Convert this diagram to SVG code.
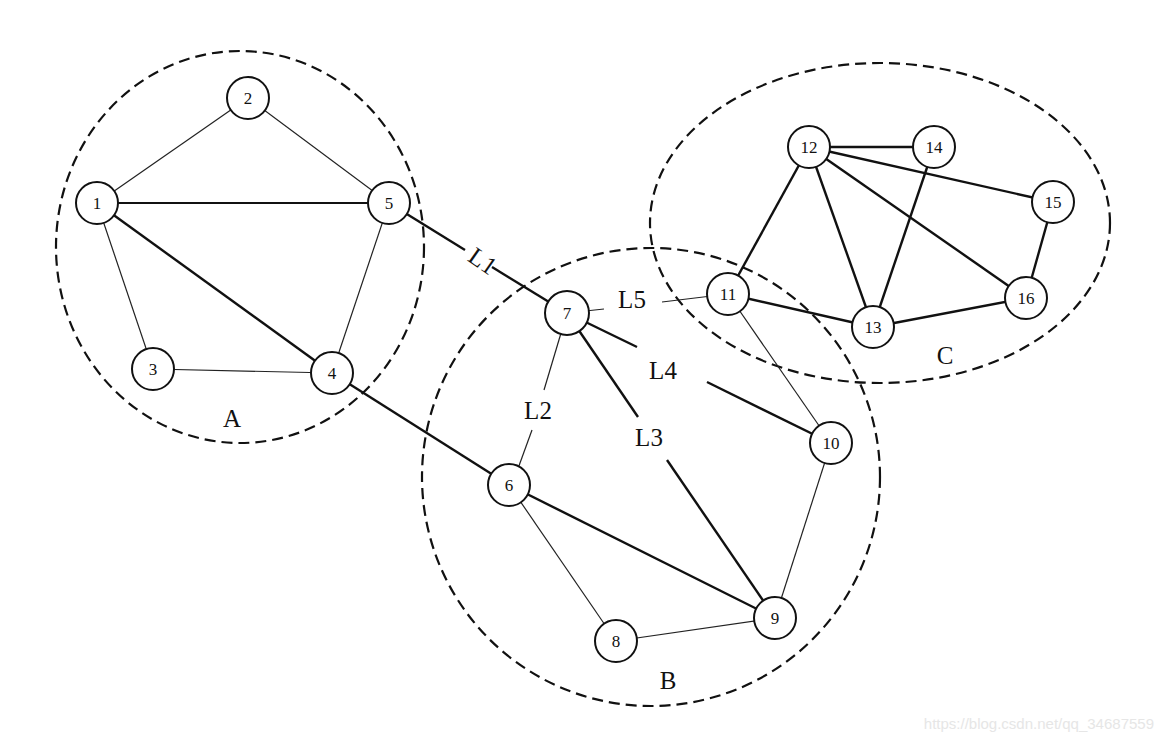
<svg xmlns="http://www.w3.org/2000/svg" width="1163" height="744" viewBox="0 0 1163 744">
<style>
.grp{fill:none;stroke:#111;stroke-width:2.2;stroke-dasharray:11,6}
.n circle{fill:#fff;stroke:#111;stroke-width:2}
.n text{font-family:"Liberation Serif",serif;font-size:17px;fill:#111;text-anchor:middle}
.thin{stroke:#222;stroke-width:1.2;fill:none}
.mid{stroke:#111;stroke-width:1.8;fill:none}
.thick{stroke:#111;stroke-width:2.4;fill:none}
.lbl{font-family:"Liberation Serif",serif;font-size:25px;fill:#111;text-anchor:middle}
</style>
<rect width="1163" height="744" fill="#fff"/>
<g id="groups">
<ellipse class="grp" cx="240" cy="247" rx="184" ry="196"/>
<circle class="grp" cx="651" cy="477" r="229"/>
<ellipse class="grp" cx="880" cy="223" rx="230" ry="160"/>
</g>
<g id="connectors">
<line class="thin" x1="97" y1="203" x2="248" y2="98"/>
<line class="thin" x1="248" y1="98" x2="389" y2="203"/>
<line class="mid" x1="97" y1="203" x2="389" y2="203"/>
<line class="thin" x1="97" y1="203" x2="153" y2="369"/>
<line class="thick" x1="97" y1="203" x2="332" y2="373"/>
<line class="thin" x1="153" y1="369" x2="332" y2="373"/>
<line class="thin" x1="389" y1="203" x2="332" y2="373"/>
<line class="thick" x1="332" y1="373" x2="509" y2="485"/>
<line class="thick" x1="389" y1="203" x2="465" y2="250"/>
<line class="thick" x1="492" y1="267" x2="567" y2="313"/>
<line class="thin" x1="567" y1="313" x2="604" y2="309"/>
<line class="thin" x1="662" y1="302" x2="728" y2="294"/>
<line class="thick" x1="567" y1="313" x2="637" y2="347"/>
<line class="thick" x1="707" y1="382" x2="831" y2="443"/>
<line class="thin" x1="567" y1="313" x2="544" y2="390"/>
<line class="thin" x1="532" y1="430" x2="512" y2="485"/>
<line class="thick" x1="567" y1="313" x2="638" y2="417"/>
<line class="thick" x1="667" y1="460" x2="775" y2="618"/>
<line class="thick" x1="509" y1="485" x2="775" y2="618"/>
<line class="thin" x1="509" y1="485" x2="616" y2="641"/>
<line class="thin" x1="616" y1="641" x2="775" y2="618"/>
<line class="thin" x1="831" y1="443" x2="775" y2="618"/>
<line class="thin" x1="728" y1="294" x2="831" y2="443"/>
<line class="thick" x1="728" y1="294" x2="809" y2="147"/>
<line class="thick" x1="728" y1="294" x2="873" y2="327"/>
<line class="thick" x1="809" y1="147" x2="934" y2="147"/>
<line class="thick" x1="809" y1="147" x2="1053" y2="202"/>
<line class="thick" x1="809" y1="147" x2="1026" y2="298"/>
<line class="thick" x1="809" y1="147" x2="873" y2="327"/>
<line class="thick" x1="934" y1="147" x2="873" y2="327"/>
<line class="thick" x1="1053" y1="202" x2="1026" y2="298"/>
<line class="thick" x1="873" y1="327" x2="1026" y2="298"/>
</g>
<g id="labels">
<text class="lbl" transform="translate(478,268) rotate(35)">L1</text>
<text class="lbl" x="632" y="308">L5</text>
<text class="lbl" x="663" y="379">L4</text>
<text class="lbl" x="538" y="419">L2</text>
<text class="lbl" x="649" y="446">L3</text>
<text class="lbl" x="232" y="427">A</text>
<text class="lbl" x="668" y="689">B</text>
<text class="lbl" x="945" y="364">C</text>
</g>
<g id="n1" class="n"><circle cx="97" cy="203" r="21"/><text x="97" y="209">1</text></g>
<g id="n2" class="n"><circle cx="248" cy="98" r="21"/><text x="248" y="104">2</text></g>
<g id="n3" class="n"><circle cx="153" cy="369" r="21"/><text x="153" y="375">3</text></g>
<g id="n4" class="n"><circle cx="332" cy="373" r="21"/><text x="332" y="379">4</text></g>
<g id="n5" class="n"><circle cx="389" cy="203" r="21"/><text x="389" y="209">5</text></g>
<g id="n6" class="n"><circle cx="509" cy="485" r="21"/><text x="509" y="491">6</text></g>
<g id="n7" class="n"><circle cx="567" cy="313" r="22"/><text x="567" y="319">7</text></g>
<g id="n8" class="n"><circle cx="616" cy="641" r="21"/><text x="616" y="647">8</text></g>
<g id="n9" class="n"><circle cx="775" cy="618" r="21"/><text x="775" y="624">9</text></g>
<g id="n10" class="n"><circle cx="831" cy="443" r="21"/><text x="831" y="449">10</text></g>
<g id="n11" class="n"><circle cx="728" cy="294" r="21"/><text x="728" y="300">11</text></g>
<g id="n12" class="n"><circle cx="809" cy="147" r="21"/><text x="809" y="153">12</text></g>
<g id="n13" class="n"><circle cx="873" cy="327" r="21"/><text x="873" y="333">13</text></g>
<g id="n14" class="n"><circle cx="934" cy="147" r="21"/><text x="934" y="153">14</text></g>
<g id="n15" class="n"><circle cx="1053" cy="202" r="21"/><text x="1053" y="208">15</text></g>
<g id="n16" class="n"><circle cx="1026" cy="298" r="21"/><text x="1026" y="304">16</text></g>
<text x="1154" y="729" font-family="'Liberation Sans',sans-serif" font-size="15" fill="#e6e6e6" text-anchor="end">https://blog.csdn.net/qq_34687559</text>
</svg>
